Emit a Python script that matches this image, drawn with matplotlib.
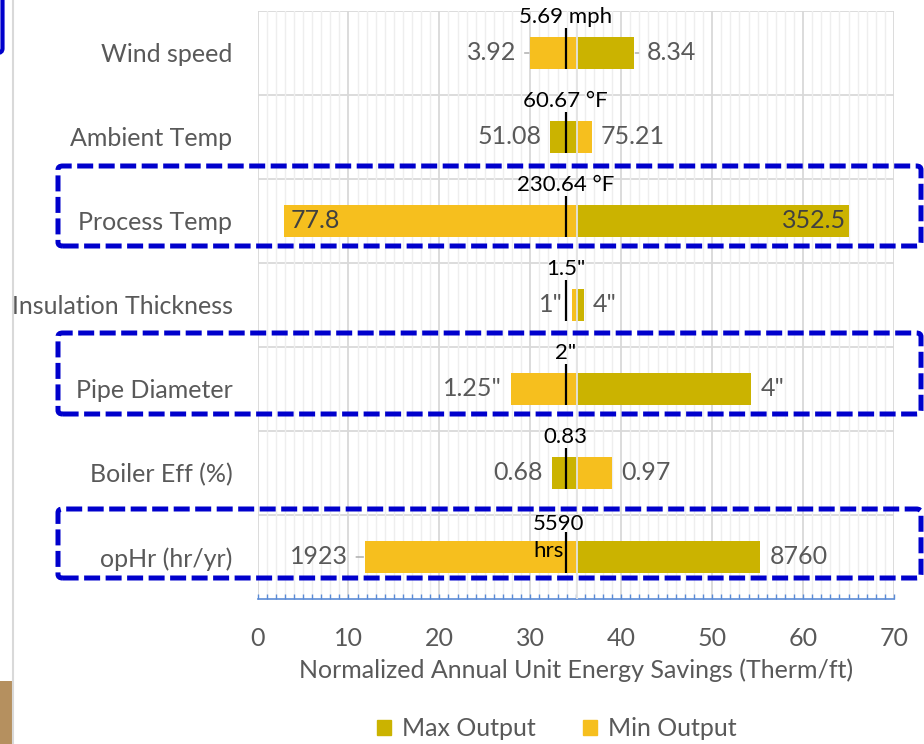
import numpy as np
import matplotlib
matplotlib.use("Agg")
import matplotlib.pyplot as plt
from matplotlib.patches import FancyBboxPatch, Rectangle, Patch
from matplotlib.lines import Line2D

plt.rcParams['font.family'] = ['Lato', 'DejaVu Sans']

# tornado data (Therm/ft)
categories = ['Wind speed', 'Ambient Temp', 'Process Temp', 'Insulation Thickness',
              'Pipe Diameter', 'Boiler Eff (%)', 'opHr (hr/yr)']
max_output = [41.4, 32.2, 65.0, 35.9, 54.3, 32.4, 55.3]
min_output = [30.0, 36.8, 2.9, 34.6, 27.9, 39.0, 11.8]
split_value = 35.1      # where the two series meet
base_case = 33.9        # base case marker
low_labels = ['3.92', '51.08', '77.8', '1"', '1.25"', '0.68', '1923']
high_labels = ['8.34', '75.21', '352.5', '4"', '4"', '0.97', '8760']
base_labels = ['5.69 mph', '60.67 °F', '230.64 °F', '1.5"', '2"', '0.83', '5590\nhrs']

OLIVE = '#CBB300'
YELLOW = '#F6BF1E'
GREY_TXT = '#595959'
GRID = '#D9D9D9'
AXBLUE = '#5B8BD6'
BOXBLUE = '#0000CC'

W, H = 924, 744
fig = plt.figure(figsize=(W / 100, H / 100), dpi=100)


def fx(px):
    return px / W


def fy(py):
    return 1 - py / H


ax = fig.add_axes([fx(257.5), fy(599), fx(894) - fx(257.5), fy(11) - fy(599)])

y = np.arange(len(categories))
bar_h = 0.37
ax.barh(y, np.array(max_output) - split_value, left=split_value, height=bar_h,
        color=OLIVE, zorder=2)
ax.barh(y, np.array(min_output) - split_value, left=split_value, height=bar_h,
        color=YELLOW, zorder=2)
ax.axvline(split_value, color='#E3E3E3', lw=1.3, zorder=3)

# base case marker
ax.vlines([base_case] * len(y), y - 0.30, y + bar_h / 2, color='black', lw=1.6, zorder=4)

ax.set_xlim(0, 70)
ax.set_ylim(6.5, -0.5)

# grid
ax.set_xticks(np.arange(0, 71, 10))
ax.set_xticks(np.arange(0, 71, 1), minor=True)
ax.grid(which='major', axis='x', color=GRID, lw=1.3, zorder=0)
ax.grid(which='minor', axis='x', color='#EEEEEE', lw=1.0, zorder=0)
ax.hlines(np.arange(-0.5, 6.0, 1), 0, 70, color=GRID, lw=1.3, zorder=1)

for s in ['top', 'right', 'left']:
    ax.spines[s].set_visible(False)
ax.spines['bottom'].set_color(AXBLUE)
ax.spines['bottom'].set_linewidth(1.2)
ax.tick_params(axis='x', which='both', direction='in', length=3.8, width=1,
               color=AXBLUE, labelsize=18, labelcolor=GREY_TXT, pad=20.5)
ax.set_yticks(y)
ax.set_yticklabels(categories)
ax.tick_params(axis='y', length=0, labelsize=18, labelcolor=GREY_TXT, pad=18)
ax.set_xlabel('Normalized Annual Unit Energy Savings (Therm/ft)', fontsize=18,
              color=GREY_TXT, labelpad=6)

# end labels
PX = 0.72
for i in range(len(y)):
    left = min(max_output[i], min_output[i])
    right = max(max_output[i], min_output[i])
    if i == 2:
        ax.annotate(low_labels[i], (left, i), xytext=(7 * PX, 0), textcoords='offset points',
                    ha='left', va='center', fontsize=18, color='#404040', zorder=5)
        ax.annotate(high_labels[i], (right, i), xytext=(-2 * PX, 0), textcoords='offset points',
                    ha='right', va='center', fontsize=18, color='#404040', zorder=5)
        continue
    lgap = {0: 14, 6: 17}.get(i, 9)
    rgap = {0: 13}.get(i, 9)
    lead = dict(arrowstyle='-', color='#A6A6A6', lw=1, shrinkA=4, shrinkB=1)
    ax.annotate(low_labels[i], (left, i), xytext=(-lgap * PX, 0), textcoords='offset points',
                ha='right', va='center', fontsize=18, color=GREY_TXT,
                arrowprops=lead if i in (0, 6) else None)
    ax.annotate(high_labels[i], (right, i), xytext=(rgap * PX, 0), textcoords='offset points',
                ha='left', va='center', fontsize=18, color=GREY_TXT,
                arrowprops=lead if i == 0 else None)

# base case labels (two-line label hangs down into the bar)
for i in range(len(y)):
    two_line = '\n' in base_labels[i]
    dx = -7 * PX if two_line else 0
    dy = -30 * PX if two_line else 0
    ax.annotate(base_labels[i], (base_case, i - 0.36), xytext=(dx, dy),
                textcoords='offset points', ha='center', va='baseline',
                multialignment='left', linespacing=1.45, fontsize=16, color='black', zorder=5)

# legend
handles = [Patch(color=OLIVE, label='Max Output'), Patch(color=YELLOW, label='Min Output')]
fig.legend(handles=handles, loc='center', bbox_to_anchor=(fx(557), fy(729)), ncol=2,
           frameon=False, fontsize=18, labelcolor=GREY_TXT, handlelength=0.55,
           handleheight=0.55, handletextpad=0.45, columnspacing=1.9)

# page furniture around the chart
fig.add_artist(Line2D([fx(12.5), fx(12.5)], [0, 1], color='#D9D9D9', lw=1.5))
fig.add_artist(Rectangle((0, fy(744)), fx(12), fy(681) - fy(744), color='#B5905F', lw=0))
fig.add_artist(FancyBboxPatch((fx(-60), fy(53)), fx(62.5), fy(-20) - fy(53),
                              boxstyle='round,pad=0,rounding_size=0.006',
                              fc='none', ec=BOXBLUE, lw=3))

# dashed highlight boxes
for top, bottom in [(166, 246), (333, 414), (509, 578)]:
    fig.add_artist(FancyBboxPatch((fx(58), fy(bottom)), fx(921) - fx(58), fy(top) - fy(bottom),
                                  boxstyle='round,pad=0,rounding_size=0.005',
                                  fc='none', ec=BOXBLUE, lw=3.6,
                                  linestyle=(0, (3.2, 1.1)), zorder=10))

fig.savefig('out.png', dpi=100)
